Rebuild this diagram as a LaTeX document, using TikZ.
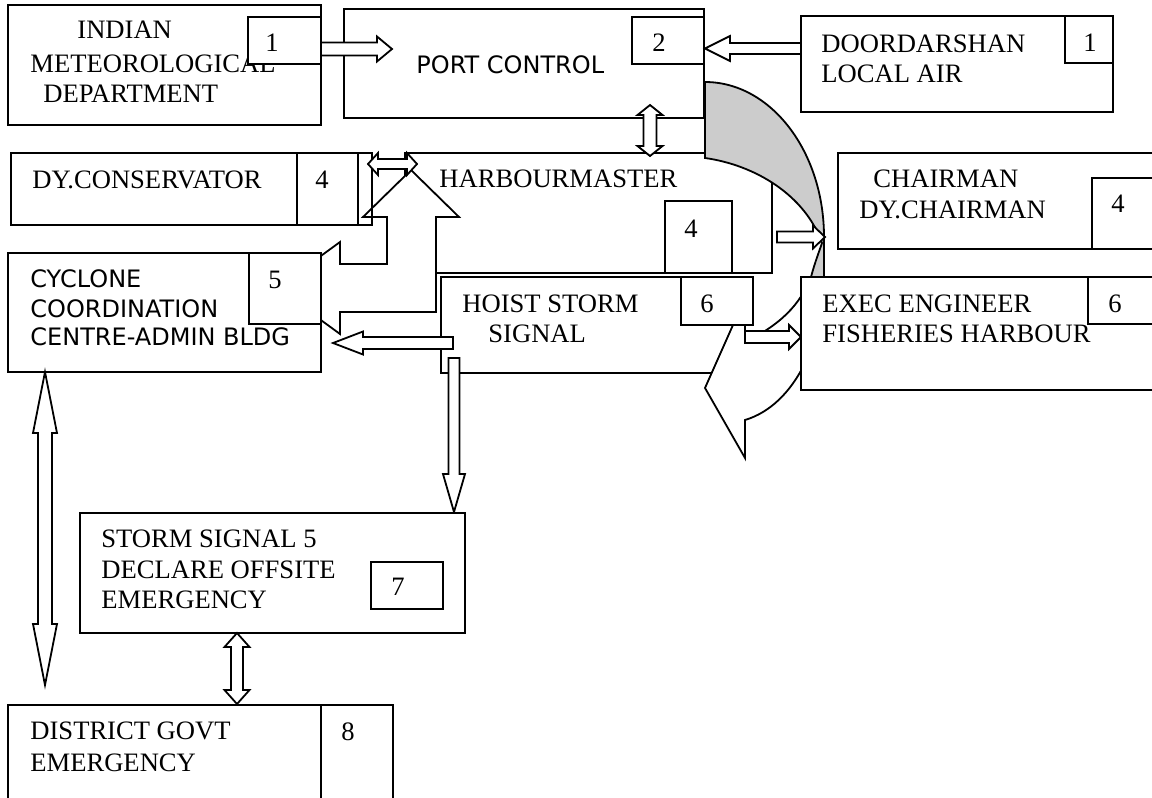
\documentclass[tikz,border=0pt]{standalone}
\usepackage{fontspec}
\setmainfont{Liberation Serif}
\newfontfamily\sansf{DejaVu Sans}
\usetikzlibrary{calc,fit}
% block arrows between named coordinates
\newcommand{\bkh}[5]{%
 \draw[blk] let \p1=(#1), \p2=(#2), \n1={ifthenelse(\x2>\x1,1,-1)}, \n2={\x2-(\n1)*(#5)} in
 (\x1,\y1-#3) -- ({\n2*1pt},\y1-#3) -- ({\n2*1pt},\y1-#4) -- (\x2,\y1) -- ({\n2*1pt},\y1+#4) -- ({\n2*1pt},\y1+#3) -- (\x1,\y1+#3) -- cycle;}
\newcommand{\bkv}[5]{%
 \draw[blk] let \p1=(#1), \p2=(#2), \n1={ifthenelse(\y2>\y1,1,-1)}, \n2={\y2-(\n1)*(#5)} in
 (\x1-#3,\y1) -- (\x1-#3,{\n2*1pt}) -- (\x1-#4,{\n2*1pt}) -- (\x1,\y2) -- (\x1+#4,{\n2*1pt}) -- (\x1+#3,{\n2*1pt}) -- (\x1+#3,\y1) -- cycle;}
\newcommand{\bkdh}[5]{%
 \draw[blk] let \p1=(#1), \p2=(#2), \n1={ifthenelse(\x2>\x1,1,-1)}, \n2={\x1+(\n1)*(#5)}, \n3={\x2-(\n1)*(#5)} in
 (\x1,\y1) -- ({\n2*1pt},\y1+#4) -- ({\n2*1pt},\y1+#3) -- ({\n3*1pt},\y1+#3) -- ({\n3*1pt},\y1+#4) -- (\x2,\y1) -- ({\n3*1pt},\y1-#4) -- ({\n3*1pt},\y1-#3) -- ({\n2*1pt},\y1-#3) -- ({\n2*1pt},\y1-#4) -- cycle;}
\newcommand{\bkdv}[5]{%
 \draw[blk] let \p1=(#1), \p2=(#2), \n1={ifthenelse(\y2>\y1,1,-1)}, \n2={\y1+(\n1)*(#5)}, \n3={\y2-(\n1)*(#5)} in
 (\x1,\y1) -- (\x1+#4,{\n2*1pt}) -- (\x1+#3,{\n2*1pt}) -- (\x1+#3,{\n3*1pt}) -- (\x1+#4,{\n3*1pt}) -- (\x1,\y2) -- (\x1-#4,{\n3*1pt}) -- (\x1-#3,{\n3*1pt}) -- (\x1-#3,{\n2*1pt}) -- (\x1-#4,{\n2*1pt}) -- cycle;}
\begin{document}
\begin{tikzpicture}[x=0.5pt,y=-0.5pt,
 bx/.style={draw, line width=0.9pt, fill=white, inner sep=0pt, outer sep=0pt},
 ob/.style={draw, line width=0.9pt, inner sep=0pt, outer sep=0pt},
 blk/.style={draw, line width=0.9pt, fill=white, line join=miter},
 sr/.style={font=\fontsize{13.3}{16}\selectfont, inner sep=0pt, anchor=base west},
 ss/.style={font=\sansf\fontsize{12}{14}\selectfont, inner sep=0pt, anchor=base west},
 num/.style={font=\fontsize{13.3}{16}\selectfont, inner sep=0pt, anchor=base}]
\useasboundingbox (0,0) rectangle (1152,798);
\clip (0,0) rectangle (1152,798);

% ---- Indian Meteorological Department
\node[bx, fit={(8,5) (321,125)}] (imd) {};
\node[sr] (imdA) at (77,38) {INDIAN};
\node[sr] (imdB) at (30,72) {METEOROLOGICAL};
\node[sr] (imdC) at (43,102) {DEPARTMENT};
\node[bx, fit={(248,17) (321,64)}] (imdn) {};
\node[num] (imdnt) at (272,51) {1};

% ---- Port control
\node[bx, fit={(344,9) (704,118)}] (pc) {};
\node[ss] (pcA) at (416,73) {PORT CONTROL};
\node[bx, fit={(632,17) (704,64)}] (pcn) {};
\node[num] (pcnt) at (659,51) {2};

% ---- Doordarshan
\node[bx, fit={(801,16) (1113,112)}] (dd) {};
\node[sr] (ddA) at (821,52) {DOORDARSHAN};
\node[sr] (ddB) at (821,82) {LOCAL AIR};
\node[bx, fit={(1065,16) (1113,63)}] (ddn) {};
\node[num] (ddnt) at (1090,51) {1};

% arrows into port control
\coordinate (aA1) at (321,49); \coordinate (aA2) at (392,49);
\bkh{aA1}{aA2}{3.25pt}{6.25pt}{7.5pt}
\coordinate (aB1) at (801,48.5); \coordinate (aB2) at (705,48.5);
\bkh{aB1}{aB2}{2.75pt}{6.25pt}{12.5pt}

% ---- Harbourmaster
\node[bx, fit={(405,153) (772,273)}] (hm) {};
\node[sr] (hmA) at (439,187) {HARBOURMASTER};
\node[bx, fit={(665,201) (732,273)}] (hmn) {};
\node[num] (hmnt) at (691,237) {4};

% left-up arrow from harbourmaster
\draw[blk] (411,170) -- (459,217) -- (436,217) -- (436,312) -- (340,312) -- (340,334)
  -- (277,288) -- (340,242) -- (340,264) -- (387,264) -- (387,217) -- (363,217) -- cycle;

% ---- Dy. conservator
\node[ob, fit={(11,153) (372,225)}] (dc) {};
\node[ob, fit={(297,153) (358,225)}] (dcn) {};
\node[sr] (dcA) at (32,188) {DY.CONSERVATOR};
\node[num] (dcnt) at (322,188) {4};

\coordinate (aD1) at (368,164); \coordinate (aD2) at (417,164);
\bkdh{aD1}{aD2}{2.5pt}{5.5pt}{5pt}
\coordinate (aC1) at (650,105); \coordinate (aC2) at (650,156);
\bkdv{aC1}{aC2}{3.25pt}{6.25pt}{5pt}

% ---- Cyclone coordination centre
\node[bx, fit={(8,253) (321,372)}] (cc) {};
\node[ss] (ccA) at (30,287) {CYCLONE};
\node[ss] (ccB) at (30,317) {COORDINATION};
\node[ss] (ccC) at (30,345) {CENTRE-ADMIN BLDG};
\node[bx, fit={(249,253) (321,324)}] (ccn) {};
\node[num] (ccnt) at (275,288) {5};

% ---- Hoist storm signal
\node[bx, fit={(441,277) (740,373)}] (hs) {};
\node[sr] (hsA) at (462,312) {HOIST STORM};
\node[sr] (hsB) at (488,342) {SIGNAL};

\coordinate (aF1) at (453,343); \coordinate (aF2) at (333,343);
\bkh{aF1}{aF2}{3pt}{5.75pt}{15pt}
\coordinate (aG1) at (454,358); \coordinate (aG2) at (454,512);
\bkv{aG1}{aG2}{2.75pt}{5.5pt}{19pt}

% ---- big curved arrow (back part shaded, front part white)
\draw[line width=0.9pt, fill=black!20, line join=miter] (705,158) -- (705,82)
  .. controls (770.7,82) and (824,151.4) .. (824,237) -- (824,277) -- (811,277)
  .. controls (815,262) and (819,252) .. (822,243)
  .. controls (805,195) and (755,165) .. (705,158) -- cycle;
\draw[blk] (811,277) .. controls (800,305) and (780,325) .. (745,342) -- (745,298)
  -- (705,388) -- (745,458) -- (745,420) .. controls (795,405) and (824,340) .. (824,277) -- cycle;

\node[bx, fit={(681,277) (753,325)}] (hsn) {};
\node[num] (hsnt) at (707,312) {6};

\coordinate (aK1) at (745,337); \coordinate (aK2) at (801,337);
\bkh{aK1}{aK2}{3pt}{6pt}{6pt}
\coordinate (aJ1) at (777,237); \coordinate (aJ2) at (825,237);
\bkh{aJ1}{aJ2}{2.75pt}{5.75pt}{6pt}

% ---- Chairman
\node[bx, fit={(838,153) (1160,249)}] (ch) {};
\node[sr] (chA) at (873,187) {CHAIRMAN};
\node[sr] (chB) at (859,218) {DY.CHAIRMAN};
\node[bx, fit={(1092,178) (1160,249)}] (chn) {};
\node[num] (chnt) at (1118,212) {4};

% ---- Exec engineer
\node[bx, fit={(801,277) (1160,390)}] (ee) {};
\node[sr] (eeA) at (822,312) {EXEC ENGINEER};
\node[sr] (eeB) at (822,342) {FISHERIES HARBOUR};
\node[bx, fit={(1088,277) (1160,324)}] (een) {};
\node[num] (eent) at (1115,312) {6};

% ---- Storm signal 5
\node[bx, fit={(80,513) (465,633)}] (ss) {};
\node[sr] (ssA) at (101,547) {STORM SIGNAL 5};
\node[sr] (ssB) at (101,578) {DECLARE OFFSITE};
\node[sr] (ssC) at (101,608) {EMERGENCY};
\node[bx, fit={(371,562) (443,609)}] (ssn) {};
\node[num] (ssnt) at (398,595) {7};

% ---- District govt
\node[bx, fit={(8,705) (393,810)}] (dg) {};
\node[sr] (dgA) at (30,739) {DISTRICT GOVT};
\node[sr] (dgB) at (30,771) {EMERGENCY};
\node[bx, fit={(321,705) (393,810)}] (dgn) {};
\node[num] (dgnt) at (348,740) {8};

\coordinate (aH1) at (237,633); \coordinate (aH2) at (237,704);
\bkdv{aH1}{aH2}{3pt}{6.25pt}{7pt}
\coordinate (aI1) at (45,372); \coordinate (aI2) at (45,685);
\bkdv{aI1}{aI2}{3.5pt}{6pt}{30.5pt}
\end{tikzpicture}
\end{document}
